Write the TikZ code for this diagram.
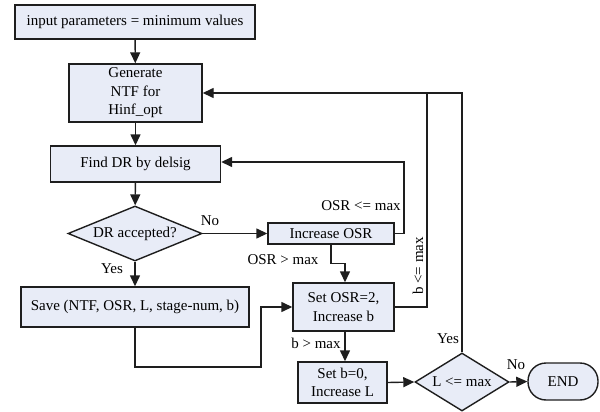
\documentclass[tikz,border=0pt]{standalone}
\usepackage{fontspec}
\setmainfont{Liberation Serif}
\usetikzlibrary{shapes.geometric,arrows.meta}
\definecolor{boxfill}{RGB}{232,236,247}
\definecolor{lc}{RGB}{30,30,30}
\begin{document}
\begin{tikzpicture}[x=1pt,y=-1pt,
  font=\fontsize{15}{18.5}\selectfont,
  box/.style={draw=lc,line width=1.4pt,fill=boxfill,inner sep=1pt,align=center},
  dia/.style={draw=lc,line width=1.4pt,fill=boxfill,diamond,aspect=2.4,inner sep=0pt},
  arr/.style={draw=lc,line width=1.4pt,-{Triangle[length=11pt,width=10pt]}},
  ln/.style={draw=lc,line width=1.4pt},
  lbl/.style={inner sep=0pt}]
\useasboundingbox (0,0) rectangle (600,412);
\node[box,minimum width=240,minimum height=34] (n1) at (135,22) {input parameters = minimum values};
\node[box,minimum width=133,minimum height=58] (n2) at (135.5,93) {Generate\\NTF for\\Hinf\_opt};
\node[box,minimum width=170,minimum height=36] (n3) at (135.5,164) {Find DR by delsig};
\node[dia,minimum width=134,minimum height=55] (d1) at (135,233.5) {DR accepted?};
\node[box,minimum width=126,minimum height=21] (ios) at (331,233.5) {Increase OSR};
\node[box,minimum width=228,minimum height=40] (save) at (135,307) {Save (NTF, OSR, L, stage-num, b)};
\node[box,minimum width=101,minimum height=48] (sosr) at (343.5,307) {Set OSR=2,\\Increase b};
\node[box,minimum width=89,minimum height=41] (sb0) at (342.5,382.5) {Set b=0,\\Increase L};
\node[dia,minimum width=94,minimum height=58] (d2) at (462,382) {L <= max};
\node[box,rounded corners=18pt,minimum width=70,minimum height=37] (end) at (563,381.5) {END};

\coordinate (c2) at (427,93);
\coordinate (c3) at (462,93);
\coordinate (c1) at (404,162);
\coordinate (j1) at (261,367);

\draw[arr] (n1) -- (n2);
\draw[arr] (n2) -- (n3);
\draw[arr] (n3) -- (d1);
\draw[arr] (d1.east) -- (ios.west);
\draw[arr] (d1.south) -- (save.north);
\draw[arr] (ios.east) -| (c1) -- (n3.east |- c1);
\draw[arr] (ios.south) -- ++(0,19) -| ([xshift=1.5pt]sosr.north);
\draw[arr] (save.south) |- (j1) |- (sosr.west);
\draw[ln] (sosr.east) -| (c2);
\draw[arr] (d2.north) -- (c3) -- (n2.east);
\draw[arr] ([xshift=1.5pt]sosr.south) -- ([xshift=2.5pt]sb0.north);
\draw[arr] (sb0.east) -- (d2.west);
\draw[arr] (d2.east) -- (end.west);

\node[lbl] (l1) at (210,221) {No};
\node[lbl] (l2) at (112,269) {Yes};
\node[lbl] (l3) at (361,206) {OSR <= max};
\node[lbl] (l4) at (283,260) {OSR > max};
\node[lbl,rotate=90] (l5) at (418,266) {b <= max};
\node[lbl] (l6) at (316,343) {b > max};
\node[lbl] (l7) at (448,339) {Yes};
\node[lbl] (l8) at (516,365) {No};
\end{tikzpicture}
\end{document}
